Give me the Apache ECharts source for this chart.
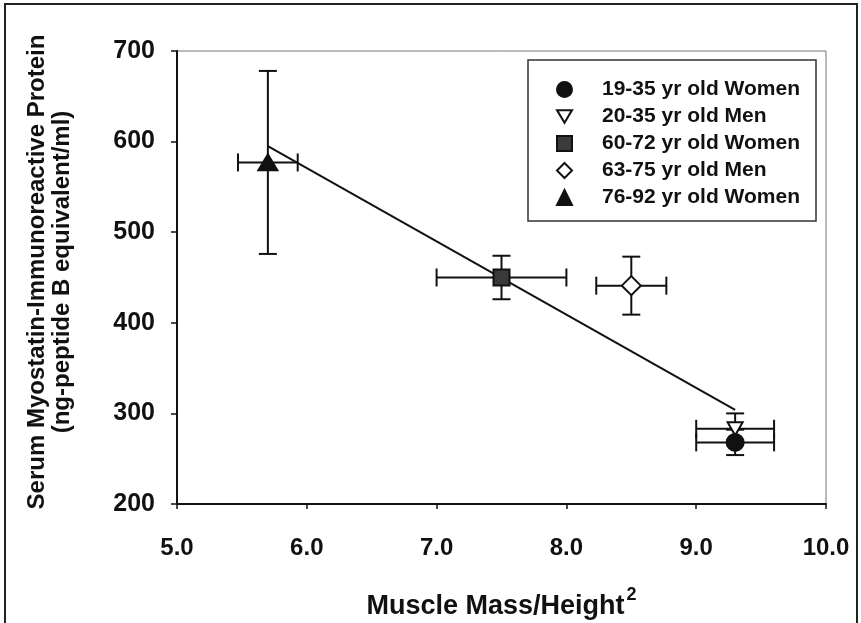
<!DOCTYPE html>
<html>
<head>
<meta charset="utf-8">
<script src="https://cdn.jsdelivr.net/npm/echarts@6/dist/echarts.min.js"></script>
<style>
  html, body { margin: 0; padding: 0; background: #fff; }
  #chart { width: 861px; height: 623px; }
</style>
</head>
<body>
<div id="chart"></div>
<script>
// Age / sex groups
const groups = [
  '19-35 yr old Women',
  '20-35 yr old Men',
  '60-72 yr old Women',
  '63-75 yr old Men',
  '76-92 yr old Women'
];
// Muscle mass / height^2 (mean and SE)
const massMean = [9.3, 9.3, 7.5, 8.5, 5.7];
const massErr = [0.3, 0.3, 0.5, 0.27, 0.23];
// Serum myostatin-immunoreactive protein (mean and SE)
const myoMean = [268, 283, 450, 441, 577];
const myoErr = [14, 17, 24, 32, 101];
// Regression line end points
const fitX = [5.7, 9.3];
const fitY = [595, 304];
// Axis ticks
const xTicks = [5, 6, 7, 8, 9, 10];
const yTicks = [200, 300, 400, 500, 600, 700];

const FONT = 'Liberation Sans';
const INK = '#111';

// Marker look per group
const markerStyles = [
  { symbol: 'circle', size: 17, color: '#111', border: '#111' },
  { symbol: 'path://M0,0L20,0L10,17Z', size: [15, 13], color: '#fff', border: '#111' },
  { symbol: 'rect', size: 16, color: '#3a3a3a', border: '#111' },
  { symbol: 'diamond', size: [19, 19], color: '#fff', border: '#111' },
  { symbol: 'triangle', size: [19, 16], color: '#111', border: '#111' }
];

const chart = echarts.init(document.getElementById('chart'), null, { renderer: 'canvas' });

const errData = groups.map((g, i) => [massMean[i], myoMean[i], massErr[i], myoErr[i]]);

// Horizontal and vertical error bars with end caps
const errorSeries = {
  type: 'custom',
  name: 'error',
  silent: true,
  z: 2,
  encode: { x: 0, y: 1 },
  data: errData,
  renderItem: function (params, api) {
    const x = api.value(0), y = api.value(1), ex = api.value(2), ey = api.value(3);
    const c = api.coord([x, y]);
    const l = api.coord([x - ex, y]);
    const r = api.coord([x + ex, y]);
    const t = api.coord([x, y + ey]);
    const b = api.coord([x, y - ey]);
    const cap = 9;
    const st = { stroke: INK, lineWidth: 2 };
    return {
      type: 'group',
      children: [
        { type: 'line', shape: { x1: l[0], y1: c[1], x2: r[0], y2: c[1] }, style: st },
        { type: 'line', shape: { x1: l[0], y1: c[1] - cap, x2: l[0], y2: c[1] + cap }, style: st },
        { type: 'line', shape: { x1: r[0], y1: c[1] - cap, x2: r[0], y2: c[1] + cap }, style: st },
        { type: 'line', shape: { x1: c[0], y1: t[1], x2: c[0], y2: b[1] }, style: st },
        { type: 'line', shape: { x1: c[0] - cap, y1: t[1], x2: c[0] + cap, y2: t[1] }, style: st },
        { type: 'line', shape: { x1: c[0] - cap, y1: b[1], x2: c[0] + cap, y2: b[1] }, style: st }
      ]
    };
  }
};

const fitSeries = {
  type: 'line',
  name: 'fit',
  silent: true,
  z: 3,
  symbol: 'none',
  lineStyle: { color: INK, width: 2 },
  data: fitX.map((x, i) => [x, fitY[i]])
};

const pointSeries = groups.map((g, i) => ({
  type: 'scatter',
  name: g,
  z: 5,
  symbol: markerStyles[i].symbol,
  symbolSize: markerStyles[i].size,
  itemStyle: {
    color: markerStyles[i].color,
    borderColor: markerStyles[i].border,
    borderWidth: 2,
    opacity: 1
  },
  data: [[massMean[i], myoMean[i]]]
}));

chart.setOption({
  animation: false,
  backgroundColor: '#fff',
  grid: {
    left: 177, right: 35, top: 51, bottom: 119,
    outerBoundsMode: 'none',
    containLabel: false,
    show: true, borderColor: '#777', borderWidth: 1
  },
  xAxis: {
    type: 'value',
    min: xTicks[0], max: xTicks[xTicks.length - 1], interval: 1,
    splitLine: { show: false },
    axisLine: { lineStyle: { color: INK, width: 2 } },
    axisTick: { show: true, length: 5, lineStyle: { color: INK, width: 1.5 } },
    axisLabel: {
      margin: 32,
      color: INK, fontFamily: FONT, fontWeight: 'bold', fontSize: 24,
      formatter: v => v.toFixed(1)
    },
    name: '{t|Muscle Mass/Height}{s|2}',
    nameLocation: 'middle',
    nameGap: 82,
    nameTextStyle: {
      rich: {
        t: { color: INK, fontFamily: FONT, fontWeight: 'bold', fontSize: 27, verticalAlign: 'bottom' },
        s: { color: INK, fontFamily: FONT, fontWeight: 'bold', fontSize: 18, verticalAlign: 'top', padding: [0, 0, 16, 2] }
      }
    }
  },
  yAxis: {
    type: 'value',
    min: yTicks[0], max: yTicks[yTicks.length - 1], interval: 100,
    splitLine: { show: false },
    axisLine: { lineStyle: { color: INK, width: 2 } },
    axisTick: { show: true, length: 6, lineStyle: { color: INK, width: 1.5 } },
    axisLabel: {
      margin: 22,
      color: INK, fontFamily: FONT, fontWeight: 'bold', fontSize: 25
    }
  },
  legend: {
    data: groups,
    orient: 'vertical',
    left: 528, top: 60,
    padding: [19, 16, 13, 28],
    itemWidth: 15, itemHeight: 15,
    itemGap: 6,
    borderColor: '#333', borderWidth: 1.5,
    selectedMode: false,
    textStyle: {
      color: INK, fontFamily: FONT, fontWeight: 'bold', fontSize: 21,
      padding: [0, 0, 0, 25]
    }
  },
  graphic: [
    {
      type: 'text',
      x: 50, y: 272,
      rotation: Math.PI / 2,
      style: {
        text: 'Serum Myostatin-Immunoreactive Protein\n(ng-peptide B equivalent/ml)',
        fill: INK,
        font: 'bold 24px "Liberation Sans"',
        lineHeight: 25,
        align: 'center',
        verticalAlign: 'middle'
      }
    },
    {
      type: 'rect',
      shape: { x: 5, y: 4, width: 852, height: 640 },
      style: { fill: 'none', stroke: '#222', lineWidth: 2 },
      silent: true
    }
  ],
  series: [errorSeries, fitSeries].concat(pointSeries)
});
</script>
</body>
</html>
